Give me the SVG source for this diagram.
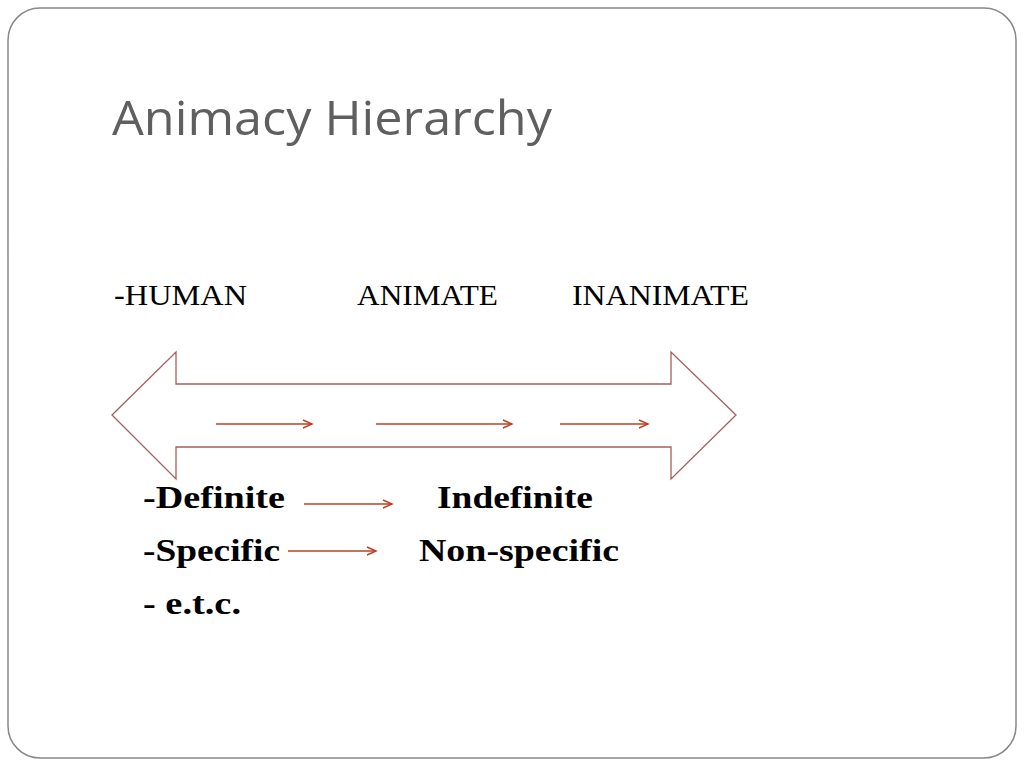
<svg xmlns="http://www.w3.org/2000/svg" width="1024" height="768" viewBox="0 0 1024 768">
<style>
.lbl{font-family:"Liberation Serif",serif;font-size:29px;fill:#000}
.b{font-family:"Liberation Serif",serif;font-size:31px;font-weight:bold;fill:#000}
.ar{stroke:#b5452a;stroke-width:1.5;fill:none;marker-end:url(#h)}
</style>
<defs><marker id="h" markerWidth="12" markerHeight="12" refX="10" refY="5" orient="auto" markerUnits="userSpaceOnUse"><path d="M1,1 L10,5 L1,9" fill="none" stroke="#b5452a" stroke-width="1.5"/></marker></defs>
<rect x="8" y="8" width="1008" height="750" rx="32" fill="#fff" stroke="#888" stroke-width="1.5"/>
<text x="112" y="135" font-family="Open Sans, Liberation Sans, sans-serif" font-size="47" fill="#5f5f5f" textLength="440" lengthAdjust="spacingAndGlyphs">Animacy Hierarchy</text>
<g id="labels">
<text class="lbl" x="114" y="305" textLength="133" lengthAdjust="spacingAndGlyphs">-HUMAN</text>
<text class="lbl" x="357" y="305" textLength="141" lengthAdjust="spacingAndGlyphs">ANIMATE</text>
<text class="lbl" x="572" y="305" textLength="177" lengthAdjust="spacingAndGlyphs">INANIMATE</text>
</g>
<g id="bigarrow"><path d="M112,415 L176,352 L176,384 L671,384 L671,352 L736,415 L671,479 L671,447 L176,447 L176,479 Z" fill="#fff" stroke="#a06060" stroke-width="1.3"/></g>
<g id="connectors">
<line class="ar" x1="216" y1="424" x2="312" y2="424"/>
<line class="ar" x1="376" y1="424" x2="512" y2="424"/>
<line class="ar" x1="560" y1="424" x2="648" y2="424"/>
<line class="ar" x1="304" y1="504" x2="392" y2="504"/>
<line class="ar" x1="288" y1="551" x2="376" y2="551"/>
</g>
<g id="list">
<text class="b" x="143" y="508" textLength="142" lengthAdjust="spacingAndGlyphs">-Definite</text>
<text class="b" x="437" y="508" textLength="156" lengthAdjust="spacingAndGlyphs">Indefinite</text>
<text class="b" x="143" y="561" textLength="137" lengthAdjust="spacingAndGlyphs">-Specific</text>
<text class="b" x="419" y="561" textLength="200" lengthAdjust="spacingAndGlyphs">Non-specific</text>
<text class="b" x="143" y="614" textLength="98" lengthAdjust="spacingAndGlyphs">- e.t.c.</text>
</g>
</svg>
